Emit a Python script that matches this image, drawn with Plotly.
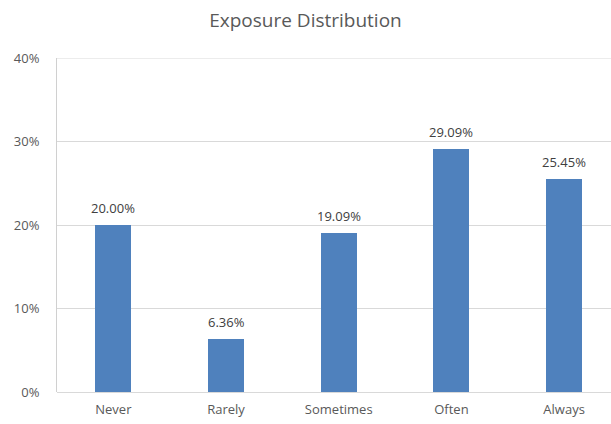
import plotly.graph_objects as go

categories = ["Never", "Rarely", "Sometimes", "Often", "Always"]
values = [0.2000, 0.0636, 0.1909, 0.2909, 0.2545]
labels = ["20.00%", "6.36%", "19.09%", "29.09%", "25.45%"]
y_ticks = [0, 0.1, 0.2, 0.3, 0.4]
y_tick_labels = ["0%", "10%", "20%", "30%", "40%"]

xs = list(range(len(categories)))

fig = go.Figure(go.Bar(
    x=xs, y=values,
    marker=dict(color="#4f81bd", line=dict(width=0)),
    width=0.32,
))

annotations = [
    dict(x=x, y=v, xref="x", yref="y", text=t, showarrow=False,
         xanchor="center", yanchor="bottom", yshift=6,
         font=dict(family="Open Sans", size=13, color="#404040"))
    for x, v, t in zip(xs, values, labels)
]

fig.update_layout(
    width=611, height=424,
    margin=dict(l=57, r=0, t=58, b=32),
    paper_bgcolor="white", plot_bgcolor="white",
    title=dict(text="Exposure Distribution", x=0.5, xanchor="center", y=0.952, yanchor="middle",
               font=dict(family="Open Sans", size=19, color="#595959")),
    showlegend=False,
    bargap=0,
    annotations=annotations,
    shapes=[dict(type="line", xref="paper", yref="y", x0=0, x1=1, y0=0.4, y1=0.4,
                 line=dict(color="#d9d9d9", width=1), layer="below")],
)
fig.update_xaxes(
    range=[-0.5, 4.416], tickvals=xs, ticktext=categories,
    showgrid=False, zeroline=False, showline=False, ticks="",
    tickfont=dict(family="Open Sans", size=13, color="#595959"),
    ticklabelstandoff=8,
)
fig.update_yaxes(
    range=[0, 0.4], tickvals=y_ticks, ticktext=y_tick_labels,
    showgrid=True, gridcolor="#d9d9d9", gridwidth=1,
    zeroline=True, zerolinecolor="#d9d9d9", zerolinewidth=1,
    showline=True, linecolor="#d0d0d0", linewidth=1, ticks="",
    tickfont=dict(family="Open Sans", size=13, color="#595959"),
    ticklabelstandoff=14,
)

fig.write_html("out.html")
